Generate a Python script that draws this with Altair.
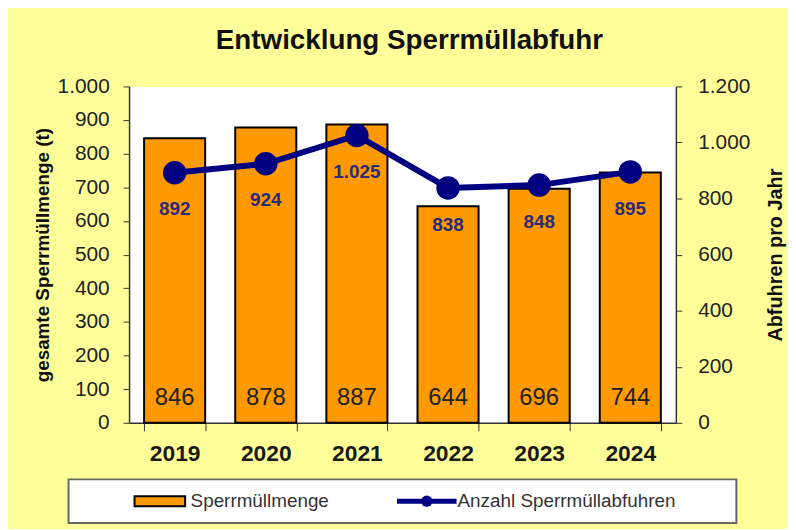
import altair as alt
import pandas as pd

# ---- data ----
years = ["2019", "2020", "2021", "2022", "2023", "2024"]
menge = [846, 878, 887, 644, 696, 744]            # gesamte Sperrmüllmenge (t)
abfuhren = [892, 924, 1025, 838, 848, 895]        # Abfuhren pro Jahr
legend_items = ["Sperrmüllmenge", "Anzahl Sperrmüllabfuhren"]
left_ticks = [0, 100, 200, 300, 400, 500, 600, 700, 800, 900, 1000]
right_ticks = [0, 200, 400, 600, 800, 1000, 1200]


def de(v):
    return f"{v:,}".replace(",", ".")


df = pd.DataFrame({
    "Jahr": years,
    "Menge": menge,
    "Abfuhren": abfuhren,
    "MengeLabel": [de(v) for v in menge],
    "AbfLabel": [de(v) for v in abfuhren],
})
leg_df = pd.DataFrame({"item": legend_items})

FONT = "Liberation Sans"
ORANGE = "#FF9900"
NAVY = "#000080"
BG = "#FFFF99"
AX = "#333333"
num_expr = "replace(format(datum.value, ','), ',', '.')"

x = alt.X(
    "Jahr:N", sort=years, title=None,
    scale=alt.Scale(paddingInner=0.33, paddingOuter=0.165),
    axis=alt.Axis(labelAngle=0, labelFont=FONT, labelFontSize=23, labelFontWeight="bold",
                  labelColor="#1a1a1a", labelPadding=12, tickBand="extent", tickSize=8,
                  tickColor=AX, domainColor=AX, domainWidth=1.5),
)
base = alt.Chart(df).encode(x=x)

left_scale = alt.Scale(domain=[0, 1000], nice=False)
left_axis = alt.Axis(values=left_ticks, labelExpr=num_expr, title="gesamte Sperrmüllmenge (t)",
                     labelFont=FONT, labelFontSize=21, labelColor="#222", labelPadding=14,
                     labelOverlap=False, tickSize=6, tickColor=AX, domainColor=AX,
                     domainWidth=1.5, grid=False, titleFont=FONT, titleFontSize=19,
                     titleFontWeight="bold", titleColor="#111", titlePadding=5)
y_right = alt.Y(
    "Abfuhren:Q", scale=alt.Scale(domain=[0, 1200], nice=False),
    axis=alt.Axis(orient="right", values=right_ticks, labelExpr=num_expr, title="Abfuhren pro Jahr",
                  labelFont=FONT, labelFontSize=21, labelColor="#222", labelPadding=16,
                  labelOverlap=False, tickSize=6, tickColor=AX, domainColor=AX, domainWidth=1.5,
                  grid=False, titleFont=FONT, titleFontSize=20, titleFontWeight="bold",
                  titleColor="#111", titleAngle=270, titlePadding=36),
)

bars = base.mark_bar(color=ORANGE, stroke="black", strokeWidth=2).encode(
    y=alt.Y("Menge:Q", scale=left_scale, axis=left_axis))
bar_text = base.transform_calculate(basis="0").mark_text(
    font=FONT, fontSize=24, color="#222", baseline="middle", dy=-25).encode(
    y=alt.Y("basis:Q", scale=left_scale, axis=left_axis), text="MengeLabel:N")

line = base.mark_line(color=NAVY, strokeWidth=6).encode(y=y_right)
pts = base.mark_circle(color=NAVY, size=560, opacity=1).encode(y=y_right)
line_text = base.mark_text(font=FONT, fontSize=19, fontWeight="bold", color="#2B2B7A",
                           baseline="middle", dy=37).encode(y=y_right, text="AbfLabel:N")

main = alt.layer(
    alt.layer(bars, bar_text),
    alt.layer(line, pts, line_text),
).resolve_scale(y="independent").properties(
    width=551, height=339,
    view=alt.ViewBackground(fill="white", stroke="transparent"),
)

# ---- legend panel ----
lx = alt.X("item:N", sort=legend_items, axis=None,
           scale=alt.Scale(type="point", domain=legend_items, range=[92, 361], padding=0))
lbase = alt.Chart(leg_df).encode(x=lx)
swatch = lbase.transform_filter(alt.datum.item == legend_items[0]).mark_point(
    shape="M-1,-0.2H1V0.2H-1Z", filled=True, fill=ORANGE, stroke="black", strokeWidth=2,
    size=2601, opacity=1)
lsym = lbase.transform_filter(alt.datum.item == legend_items[1]).mark_point(
    shape="M-1,0H1", filled=False, stroke=NAVY, strokeWidth=5, size=3600, opacity=1)
ldot = lbase.transform_filter(alt.datum.item == legend_items[1]).mark_circle(
    color=NAVY, size=130, opacity=1)
ltext = lbase.mark_text(align="left", baseline="middle", dx=31, font=FONT, fontSize=19,
                        color="#333").encode(text="item:N")

legend = alt.layer(swatch, lsym, ldot, ltext).properties(
    width=673, height=44,
    view=alt.ViewBackground(fill="white", stroke="#666", strokeWidth=2),
)

chart = alt.vconcat(main, legend, spacing=57, bounds="flush", center=True).properties(
    title=alt.Title("Entwicklung Sperrmüllabfuhr", font=FONT, fontSize=28, fontWeight="bold",
                    color="#111", anchor="middle", offset=20),
    padding={"left": 24, "top": 17, "right": 1, "bottom": 3},
    background=BG,
)

chart.save("out.html", embed_options={"renderer": "svg", "actions": False})
